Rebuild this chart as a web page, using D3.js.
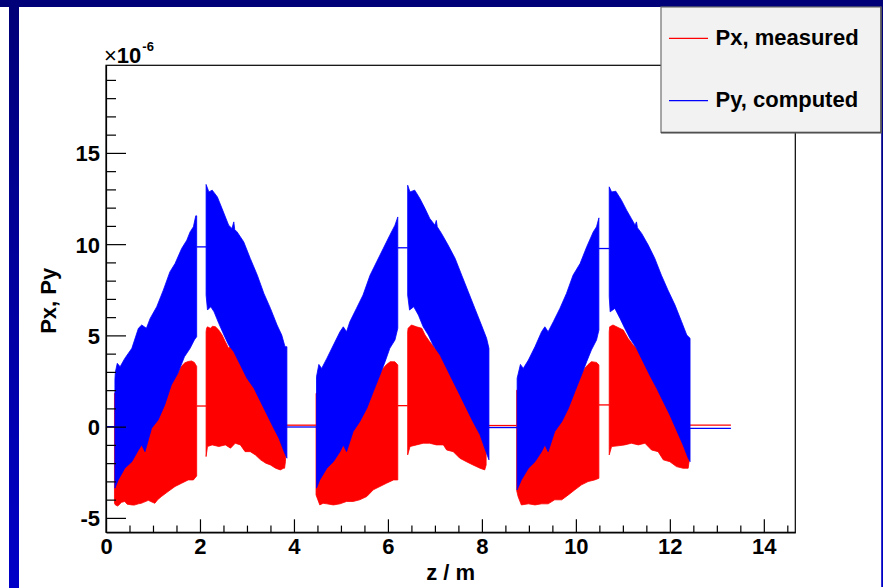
<!DOCTYPE html>
<html>
<head>
<meta charset="utf-8">
<script src="https://cdn.jsdelivr.net/npm/d3@7"></script>
<style>
  html, body { margin: 0; padding: 0; background: #fff; }
  svg { display: block; }
  text { font-family: "Liberation Sans", Arial, Helvetica, sans-serif; }
</style>
</head>
<body>
<svg id="chart" width="883" height="588"></svg>
<script>
// ---- data: momentum components along the beam line (units of 1e-6) ----
// Each series is a set of bands: for every z-segment an upper and a lower envelope,
// listed as [z, value] pairs with increasing z.
const pxUpper = [
  [[0.18,1.83],[0.5,1.9],[1.0,2.0],[1.4,2.5],[1.5,2.85],[1.54,2.95],[1.58,3.2],[1.62,3.35],[1.68,3.5],[1.75,3.57],[1.82,3.6],[1.88,3.52],[1.93,3.3]],
  [[2.13,5.2],[2.14,5.39],[2.16,5.47],[2.22,5.39],[2.27,5.5],[2.33,5.47],[2.40,5.29],[2.47,5.02],[2.54,4.65],[2.61,4.29],[2.66,4.47],[2.7,4.2],[2.79,4.1],[2.93,3.38],[3.07,2.83],[3.22,2.1],[3.36,1.19],[3.50,0.5],[3.64,-0.25],[3.74,-0.8],[3.82,-1.3]],
  [[4.47,1.83],[4.8,1.9],[5.3,2.0],[5.7,2.5],[5.83,2.9],[5.9,3.2],[5.97,3.4],[6.05,3.56],[6.15,3.55],[6.21,3.38]],
  [[6.42,5.2],[6.43,5.39],[6.5,5.57],[6.61,5.47],[6.72,5.39],[6.79,5.02],[6.89,4.65],[7.0,4.29],[7.07,4.38],[7.18,3.83],[7.32,3.19],[7.46,2.46],[7.6,1.55],[7.74,0.85],[7.89,0.0],[7.99,-0.55],[8.09,-1.35]],
  [[8.74,2.0],[9.1,1.9],[9.6,2.0],[9.98,2.5],[10.12,2.9],[10.19,3.2],[10.26,3.4],[10.33,3.56],[10.44,3.52],[10.49,3.38]],
  [[10.71,5.2],[10.72,5.47],[10.79,5.57],[10.9,5.43],[11.01,5.29],[11.11,4.84],[11.22,4.47],[11.33,4.2],[11.47,3.65],[11.61,2.92],[11.75,2.1],[11.89,1.4],[12.04,0.6],[12.18,-0.25],[12.28,-0.8],[12.39,-1.45]]
];
const pxLower = [
  [[0.18,-4.2],[0.2,-4.29],[0.25,-4.35],[0.3,-4.23],[0.33,-4.15],[0.4,-4.1],[0.45,-4.25],[0.55,-4.29],[0.6,-4.3],[0.69,-4.23],[0.75,-4.2],[0.8,-4.15],[0.9,-4.04],[0.95,-4.1],[1.04,-4.2],[1.1,-4.0],[1.18,-3.83],[1.32,-3.56],[1.47,-3.28],[1.61,-3.1],[1.75,-2.92],[1.86,-2.92],[1.93,-2.7]],
  [[2.13,-1.64],[2.16,-1.09],[2.26,-1.0],[2.40,-1.09],[2.54,-1.0],[2.65,-1.18],[2.75,-0.91],[2.86,-1.0],[2.96,-1.37],[3.07,-1.37],[3.18,-1.55],[3.29,-1.82],[3.40,-2.0],[3.50,-2.1],[3.61,-2.28],[3.71,-2.37],[3.78,-2.28],[3.80,-2.28],[3.82,-1.9]],
  [[4.47,-3.74],[4.55,-4.29],[4.62,-4.2],[4.70,-4.23],[4.84,-4.29],[4.98,-4.23],[5.12,-4.1],[5.26,-4.1],[5.40,-4.01],[5.55,-3.83],[5.69,-3.46],[5.83,-3.28],[5.97,-3.1],[6.12,-2.92],[6.21,-2.92]],
  [[6.42,-1.55],[6.47,-1.09],[6.61,-1.0],[6.75,-0.91],[6.89,-0.91],[7.03,-1.0],[7.18,-1.0],[7.25,-1.28],[7.39,-1.37],[7.53,-1.73],[7.67,-1.92],[7.81,-2.1],[7.96,-2.28],[8.06,-2.37],[8.09,-2.1]],
  [[8.74,-3.5],[8.77,-3.83],[8.84,-4.29],[8.99,-4.23],[9.13,-4.29],[9.27,-4.23],[9.41,-4.23],[9.55,-4.01],[9.70,-4.01],[9.84,-3.74],[9.98,-3.46],[10.12,-3.19],[10.26,-3.01],[10.40,-2.92],[10.49,-2.83]],
  [[10.71,-1.55],[10.76,-1.09],[10.9,-1.05],[11.04,-1.0],[11.18,-0.91],[11.33,-1.0],[11.47,-0.91],[11.61,-1.28],[11.75,-1.37],[11.86,-1.82],[12.0,-1.92],[12.14,-2.19],[12.28,-2.28],[12.39,-2.28],[12.41,-1.92]]
];
const pyUpper = [
  [[0.19,2.6],[0.2,3.0],[0.24,3.47],[0.30,3.28],[0.40,3.74],[0.55,4.29],[0.69,5.39],[0.76,5.57],[0.86,5.39],[0.94,5.93],[1.08,6.57],[1.22,7.48],[1.36,8.48],[1.47,8.94],[1.61,9.76],[1.72,10.22],[1.79,10.67],[1.86,10.95],[1.91,11.55],[1.93,11.55]],
  [[2.13,13.27],[2.19,12.86],[2.26,12.96],[2.37,12.59],[2.47,11.95],[2.61,11.04],[2.68,10.86],[2.72,11.22],[2.74,10.8],[2.79,10.67],[2.93,10.13],[3.07,9.22],[3.22,8.3],[3.36,7.3],[3.50,6.48],[3.64,5.57],[3.74,5.02],[3.81,4.38],[3.85,4.38]],
  [[4.48,2.74],[4.53,3.41],[4.59,3.19],[4.70,3.74],[4.84,4.47],[4.98,5.2],[5.05,5.47],[5.12,5.2],[5.19,5.75],[5.33,6.48],[5.47,7.21],[5.62,8.3],[5.76,9.03],[5.90,9.76],[6.04,10.49],[6.15,11.04],[6.21,11.49]],
  [[6.42,13.23],[6.47,12.86],[6.57,12.96],[6.68,12.5],[6.79,11.95],[6.89,11.41],[7.0,11.04],[7.03,11.3],[7.05,10.95],[7.14,10.59],[7.28,9.95],[7.43,9.22],[7.57,8.3],[7.71,7.39],[7.85,6.48],[7.99,5.57],[8.10,4.84],[8.15,4.29]],
  [[8.75,2.65],[8.82,3.41],[8.88,3.19],[8.99,3.65],[9.13,4.38],[9.27,5.2],[9.34,5.47],[9.41,5.2],[9.52,5.75],[9.66,6.48],[9.8,7.3],[9.94,8.3],[10.09,8.94],[10.23,9.85],[10.37,10.67],[10.44,10.95],[10.49,11.44]],
  [[10.71,13.14],[10.76,12.86],[10.85,12.9],[10.97,12.41],[11.08,11.86],[11.18,11.41],[11.26,11.04],[11.29,11.22],[11.31,10.9],[11.4,10.59],[11.54,9.95],[11.68,9.22],[11.82,8.3],[11.96,7.48],[12.11,6.66],[12.25,5.75],[12.36,5.02],[12.43,4.84]]
];
const pyLower = [
  [[0.19,-3.37],[0.26,-2.92],[0.40,-2.28],[0.55,-1.92],[0.69,-1.28],[0.76,-1.0],[0.83,-1.37],[0.97,-0.09],[1.11,0.37],[1.25,1.19],[1.39,2.28],[1.53,2.92],[1.67,3.83],[1.79,4.29],[1.88,4.75],[1.93,4.93]],
  [[2.13,7.21],[2.16,6.39],[2.23,6.57],[2.30,6.29],[2.40,5.66],[2.51,5.02],[2.61,4.47],[2.72,4.1],[2.86,3.38],[3.0,2.65],[3.15,2.1],[3.29,1.37],[3.43,0.64],[3.57,-0.09],[3.68,-0.63],[3.79,-1.37],[3.85,-1.73]],
  [[4.48,-3.37],[4.55,-2.92],[4.70,-2.28],[4.84,-1.92],[4.98,-1.37],[5.05,-1.0],[5.12,-1.37],[5.26,-0.27],[5.40,0.27],[5.55,1.0],[5.69,1.92],[5.83,2.83],[5.94,3.56],[6.04,4.29],[6.15,4.75],[6.21,5.39]],
  [[6.42,7.21],[6.46,6.39],[6.55,6.57],[6.65,6.11],[6.75,5.47],[6.86,5.02],[6.96,4.47],[7.11,3.92],[7.25,3.19],[7.39,2.46],[7.53,1.74],[7.67,1.0],[7.81,0.27],[7.96,-0.45],[8.06,-1.18],[8.15,-1.82]],
  [[8.75,-3.46],[8.84,-2.92],[8.99,-2.28],[9.13,-1.92],[9.27,-1.37],[9.34,-1.0],[9.41,-1.37],[9.55,-0.27],[9.70,0.27],[9.84,1.0],[9.98,1.92],[10.12,2.83],[10.23,3.56],[10.33,4.2],[10.44,4.75],[10.49,5.29]],
  [[10.71,7.12],[10.73,6.29],[10.83,6.48],[10.94,5.93],[11.04,5.39],[11.15,4.84],[11.29,4.29],[11.43,3.56],[11.57,2.83],[11.72,2.1],[11.86,1.37],[12.0,0.64],[12.14,-0.18],[12.28,-1.0],[12.39,-1.73],[12.43,-1.92]]
];
// flat stretches between the bands (drift spaces)
const pxFlat = [
  [[0,0],[0.18,0]], [[1.93,1.13],[2.13,1.13]], [[3.82,0.08],[4.47,0.08]],
  [[6.21,1.15],[6.42,1.15]], [[8.09,0.06],[8.74,0.06]], [[10.49,1.19],[10.71,1.19]],
  [[12.41,0.08],[13.3,0.08]]
];
const pyFlat = [
  [[0,0],[0.19,0]], [[1.93,9.85],[2.13,9.85]], [[3.85,-0.02],[4.48,-0.02]],
  [[6.21,9.8],[6.42,9.8]], [[8.15,-0.05],[8.75,-0.05]], [[10.49,9.76],[10.71,9.76]],
  [[12.43,-0.1],[13.3,-0.1]]
];
const xMajorTicks = [0, 2, 4, 6, 8, 10, 12, 14];
const xMinorTicks = d3.range(0, 14.51, 0.5).filter(v => v % 2 !== 0);
const yMajorTicks = [-5, 0, 5, 10, 15];
const yMinorTicks = d3.range(-5, 19.5, 1).filter(v => v % 5 !== 0);
const xDomain = [0, 14.67];
const yDomain = [-5.79, 19.8];
const legendItems = [
  { label: "Px, measured", color: "#ff0000" },
  { label: "Py, computed", color: "#0000ff" }
];

// ---- layout ----
const svg = d3.select("#chart");
const W = 883, H = 588;
const plot = { left: 106, right: 795.3, top: 65.3, bottom: 532.3 };
const FONT = "22px";

// pad frame
const grad = svg.append("defs").append("linearGradient")
  .attr("id", "padEdge").attr("x1", 0).attr("y1", 0).attr("x2", 0).attr("y2", 1);
grad.append("stop").attr("offset", "0%").attr("stop-color", "#000078");
grad.append("stop").attr("offset", "100%").attr("stop-color", "#0000c8");

svg.append("rect").attr("x", 0).attr("y", 0).attr("width", W).attr("height", H).attr("fill", "#fff");
svg.append("rect").attr("x", 0).attr("y", 0).attr("width", W).attr("height", 7).attr("fill", "#000078");
svg.append("rect").attr("x", 9).attr("y", 7).attr("width", 10).attr("height", H - 7).attr("fill", "url(#padEdge)");
svg.append("rect").attr("x", 881.2).attr("y", 7).attr("width", 1.8).attr("height", H - 8).attr("fill", "url(#padEdge)");

const x = d3.scaleLinear().domain(xDomain).range([plot.left, plot.right]);
const y = d3.scaleLinear().domain(yDomain).range([plot.bottom, plot.top]);

// ---- bands ----
const line = d3.line().x(d => x(d[0])).y(d => y(d[1]));
function drawBands(upper, lower, flats, color) {
  const g = svg.append("g");
  upper.forEach((up, i) => {
    const poly = up.concat(lower[i].slice().reverse());
    g.append("path").attr("d", line(poly) + "Z")
      .attr("fill", color).attr("stroke", color).attr("stroke-width", 0.8)
      .attr("stroke-linejoin", "miter");
  });
  flats.forEach(seg => {
    g.append("path").attr("d", line(seg)).attr("fill", "none")
      .attr("stroke", color).attr("stroke-width", 1.3);
  });
}
drawBands(pxUpper, pxLower, pxFlat, "#ff0000");
drawBands(pyUpper, pyLower, pyFlat, "#0000ff");

// ---- frame and axes ----
svg.append("rect").attr("x", plot.left).attr("y", plot.top)
  .attr("width", plot.right - plot.left).attr("height", plot.bottom - plot.top)
  .attr("fill", "none").attr("stroke", "#000").attr("stroke-width", 1.2);

const xAxis = svg.append("g").attr("transform", `translate(0,${plot.bottom})`)
  .call(d3.axisBottom(x).tickValues(xMajorTicks).tickSize(-13).tickSizeOuter(0)
    .tickPadding(6.5).tickFormat(d => String(d)));
svg.append("g").attr("transform", `translate(0,${plot.bottom})`)
  .call(d3.axisBottom(x).tickValues(xMinorTicks).tickSize(-6.7).tickSizeOuter(0).tickFormat(""))
  .call(g => g.select(".domain").remove());

const yAxis = svg.append("g").attr("transform", `translate(${plot.left},0)`)
  .call(d3.axisLeft(y).tickValues(yMajorTicks).tickSize(-20).tickSizeOuter(0)
    .tickPadding(6).tickFormat(d => String(d)));
svg.append("g").attr("transform", `translate(${plot.left},0)`)
  .call(d3.axisLeft(y).tickValues(yMinorTicks).tickSize(-10).tickSizeOuter(0).tickFormat(""))
  .call(g => g.select(".domain").remove());

svg.selectAll(".tick line").attr("stroke", "#000").attr("stroke-width", 1.2);
svg.selectAll(".domain").attr("stroke", "#000").attr("stroke-width", 1.2);
svg.selectAll(".tick text").attr("font-size", FONT).attr("font-weight", "bold")
  .attr("fill", "#000").style("font-family", '"Liberation Sans", Arial, sans-serif');
yAxis.selectAll(".tick text").attr("dy", "0.36em");

// exponent label
const expo = svg.append("text").attr("x", 104).attr("y", 62.5)
  .attr("font-size", FONT).attr("fill", "#000");
expo.append("tspan").text("\u00d7");
expo.append("tspan").attr("font-weight", "bold").text("10");
expo.append("tspan").attr("font-weight", "bold").attr("font-size", "13px")
  .attr("dx", 1).attr("dy", -12).text("-6");

// axis titles
svg.append("text").attr("x", (plot.left + plot.right) / 2).attr("y", 580)
  .attr("text-anchor", "middle").attr("font-size", FONT).attr("font-weight", "bold")
  .text("z / m");
svg.append("text").attr("transform", `translate(56,${(plot.top + plot.bottom) / 2 + 2}) rotate(-90)`)
  .attr("text-anchor", "middle").attr("font-size", FONT).attr("font-weight", "bold")
  .text("Px, Py");

// ---- legend ----
const lg = svg.append("g");
lg.append("rect").attr("x", 661).attr("y", 7).attr("width", 220).attr("height", 125.5)
  .attr("fill", "#f2f2f2").attr("stroke", "#707070").attr("stroke-width", 1.2);
lg.append("line").attr("x1", 661).attr("x2", 881.5).attr("y1", 132.6).attr("y2", 132.6)
  .attr("stroke", "#505050").attr("stroke-width", 1.6);
lg.append("line").attr("x1", 881).attr("x2", 881).attr("y1", 7).attr("y2", 133)
  .attr("stroke", "#505050").attr("stroke-width", 1.4);
const rowY = [38.3, 100.7];
legendItems.forEach((it, i) => {
  lg.append("line").attr("x1", 669).attr("x2", 708).attr("y1", rowY[i]).attr("y2", rowY[i])
    .attr("stroke", it.color).attr("stroke-width", 1.2);
  lg.append("text").attr("x", 715.5).attr("y", rowY[i] + 6.6)
    .attr("font-size", FONT).attr("font-weight", "bold").attr("fill", "#000")
    .text(it.label);
});
</script>
</body>
</html>
